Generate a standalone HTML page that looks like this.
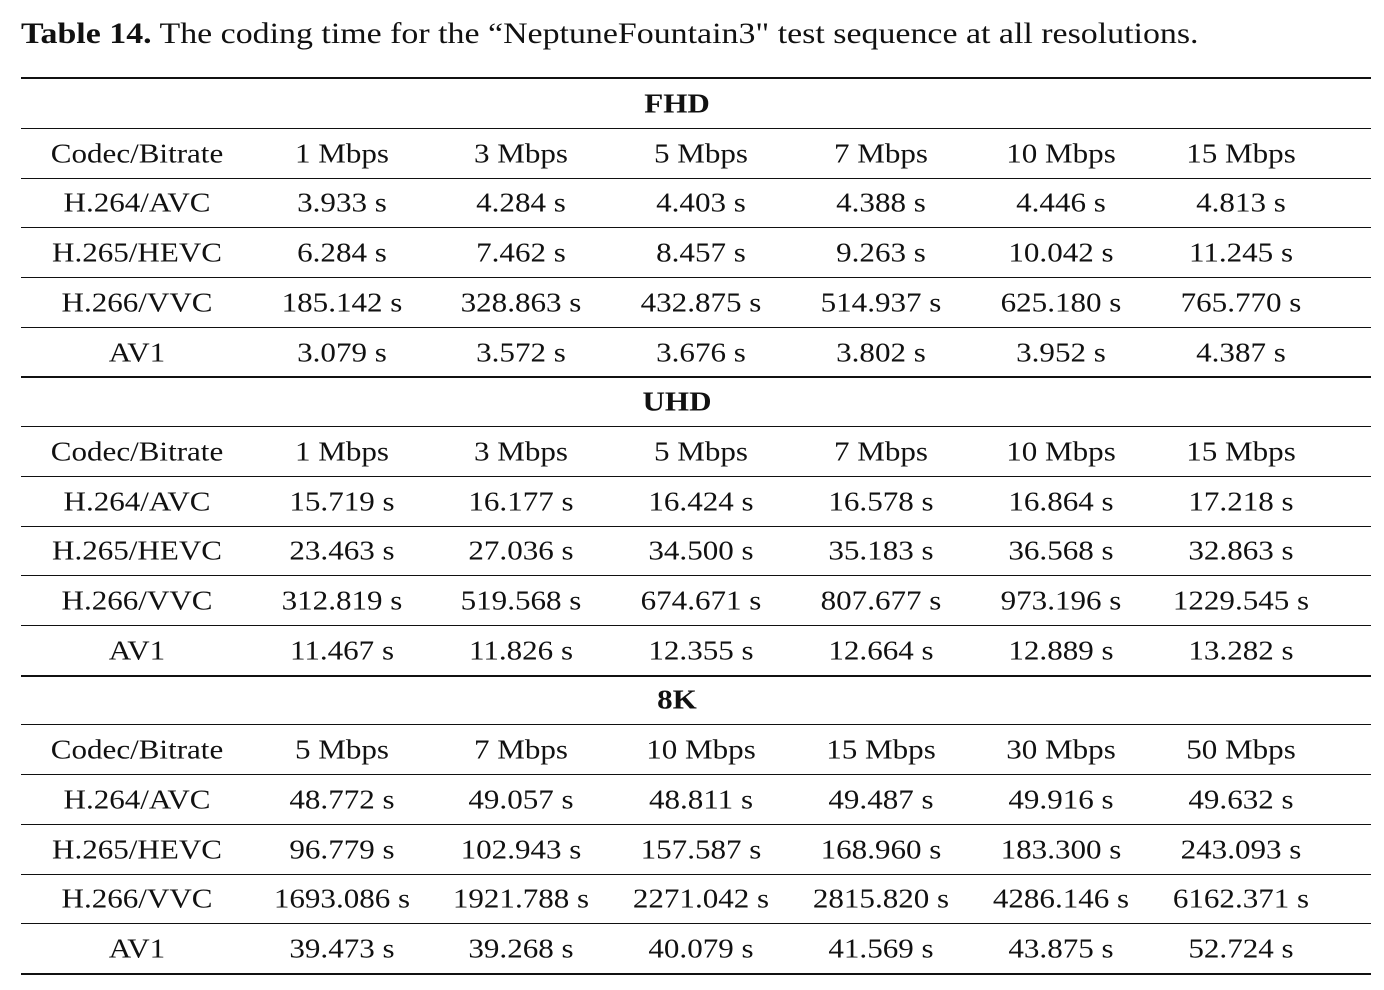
<!DOCTYPE html>
<html><head><meta charset="utf-8"><style>
body{margin:0;width:1384px;height:990px;background:#fff;position:relative;overflow:hidden;font-family:"Liberation Serif",serif;color:#111}
.t{position:absolute;white-space:nowrap;font-size:27px;transform:translate(-50%,-50%) scaleX(1.15)}
.l{position:absolute;left:21px;width:1350px;background:#111}
#title{position:absolute;left:21px;top:17px;font-size:30px;white-space:nowrap;transform-origin:0 0;transform:scaleX(1.13)}
</style></head><body>
<div id="title"><b>Table 14.</b> The coding time for the “NeptuneFountain3" test sequence at all resolutions.</div>
<div id="tbl"></div>
<script>
const cols=[137,342,521,701,881,1061,1241];
const sections=[
 {name:"FHD",rates:["1 Mbps","3 Mbps","5 Mbps","7 Mbps","10 Mbps","15 Mbps"],rows:[
  ["H.264/AVC","3.933 s","4.284 s","4.403 s","4.388 s","4.446 s","4.813 s"],
  ["H.265/HEVC","6.284 s","7.462 s","8.457 s","9.263 s","10.042 s","11.245 s"],
  ["H.266/VVC","185.142 s","328.863 s","432.875 s","514.937 s","625.180 s","765.770 s"],
  ["AV1","3.079 s","3.572 s","3.676 s","3.802 s","3.952 s","4.387 s"]]},
 {name:"UHD",rates:["1 Mbps","3 Mbps","5 Mbps","7 Mbps","10 Mbps","15 Mbps"],rows:[
  ["H.264/AVC","15.719 s","16.177 s","16.424 s","16.578 s","16.864 s","17.218 s"],
  ["H.265/HEVC","23.463 s","27.036 s","34.500 s","35.183 s","36.568 s","32.863 s"],
  ["H.266/VVC","312.819 s","519.568 s","674.671 s","807.677 s","973.196 s","1229.545 s"],
  ["AV1","11.467 s","11.826 s","12.355 s","12.664 s","12.889 s","13.282 s"]]},
 {name:"8K",rates:["5 Mbps","7 Mbps","10 Mbps","15 Mbps","30 Mbps","50 Mbps"],rows:[
  ["H.264/AVC","48.772 s","49.057 s","48.811 s","49.487 s","49.916 s","49.632 s"],
  ["H.265/HEVC","96.779 s","102.943 s","157.587 s","168.960 s","183.300 s","243.093 s"],
  ["H.266/VVC","1693.086 s","1921.788 s","2271.042 s","2815.820 s","4286.146 s","6162.371 s"],
  ["AV1","39.473 s","39.268 s","40.079 s","41.569 s","43.875 s","52.724 s"]]}
];
const tbl=document.getElementById('tbl');
function line(y,h){const d=document.createElement('div');d.className='l';d.style.top=y+'px';d.style.height=h+'px';


tbl.appendChild(d);}
function txt(x,y,s,bold,name){const d=document.createElement('div');d.className='t';d.style.left=x+'px';d.style.top=y+'px';d.textContent=s;if(bold)d.style.fontWeight='bold';


tbl.appendChild(d);}
line(77,2);
let y=104;
sections.forEach((sec,si)=>{
 txt(677,y,sec.name,true,'section-header');
 line(y+24,1);y+=49.7;
 txt(cols[0],y,'Codec/Bitrate',false,'column-header');
 sec.rates.forEach((r,i)=>txt(cols[i+1],y,r,false,'column-header'));
 sec.rows.forEach(row=>{
  line(Math.round(y+24),1);y+=49.7;
  row.forEach((c,i)=>txt(cols[i],y,c,false,i?'cell-value':'row-label'));
 });
 line(Math.round(y+24),2);y+=49.7;
});
</script>
</body></html>
